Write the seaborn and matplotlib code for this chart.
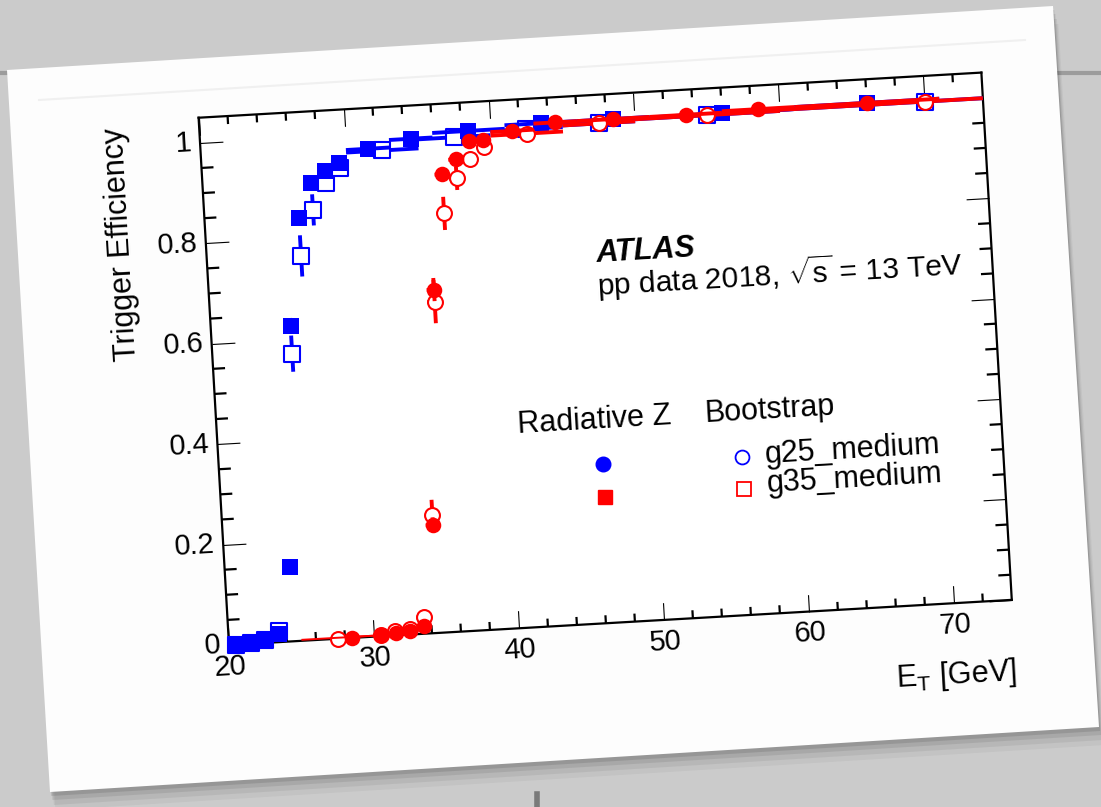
import numpy as np
import matplotlib
matplotlib.use("Agg")
import matplotlib.pyplot as plt
import matplotlib.ticker as mticker
import seaborn as sns
from matplotlib.transforms import Affine2D
from matplotlib.patches import Polygon
from matplotlib.lines import Line2D
import mpl_toolkits.axisartist.floating_axes as floating_axes
from mpl_toolkits.axisartist.grid_finder import FixedLocator

# ---------------- data ----------------
# g25_medium, Radiative Z (filled blue squares)
g25_radz_x = [20.5, 21.5, 22.5, 23.5, 24.5, 25.5, 26.5, 27.5, 28.5, 29.5, 31.5, 34.5, 38.5, 43.5, 48.5, 56.0, 66.0]
g25_radz_y = [0.000, 0.002, 0.006, 0.017, 0.148, 0.627, 0.840, 0.907, 0.930, 0.945, 0.969, 0.984, 0.993, 1.000, 1.000, 0.999, 1.003]
g25_radz_xerr = [0.5, 0.5, 0.5, 0.5, 0.5, 0.5, 0.5, 0.5, 0.5, 0.5, 1.5, 1.5, 2.5, 2.5, 2.5, 5.0, 5.0]
g25_radz_yerr = [0.002, 0.002, 0.003, 0.005, 0.010, 0.015, 0.012, 0.008, 0.007, 0.006, 0.004, 0.004, 0.003, 0.003, 0.003, 0.003, 0.003]

# g25_medium, Bootstrap (open blue squares)
g25_boot_x = [20.5, 21.5, 22.5, 23.5, 25.5, 26.5, 27.5, 28.5, 29.5, 32.5, 37.5, 42.5, 47.5, 55.0, 70.0]
g25_boot_y = [0.000, 0.001, 0.005, 0.022, 0.571, 0.764, 0.854, 0.905, 0.934, 0.964, 0.982, 0.990, 0.993, 0.997, 0.999]
g25_boot_xerr = [0.5, 0.5, 0.5, 0.5, 0.5, 0.5, 0.5, 0.5, 0.5, 2.5, 2.5, 2.5, 2.5, 5.0, 10.0]
g25_boot_yerr = [0.002, 0.002, 0.003, 0.006, 0.036, 0.041, 0.031, 0.015, 0.012, 0.006, 0.004, 0.004, 0.004, 0.004, 0.004]

# g35_medium, Radiative Z (filled red circles)
g35_radz_x = [28.5, 30.5, 31.5, 32.5, 33.5, 34.5, 35.5, 36.5, 37.5, 38.5, 39.5, 41.5, 44.5, 48.5, 53.5, 58.5, 66.0]
g35_radz_y = [0.000, 0.002, 0.004, 0.007, 0.016, 0.215, 0.682, 0.910, 0.938, 0.972, 0.973, 0.988, 1.000, 1.000, 1.000, 1.003, 1.003]
g35_radz_xerr = [1.5, 0.5, 0.5, 0.5, 0.5, 0.5, 0.5, 0.5, 0.5, 0.5, 0.5, 1.5, 1.5, 2.5, 2.5, 2.5, 5.0]
g35_radz_yerr = [0.002, 0.002, 0.003, 0.003, 0.005, 0.015, 0.023, 0.012, 0.012, 0.008, 0.008, 0.004, 0.003, 0.003, 0.003, 0.003, 0.003]

# g35_medium, Bootstrap (open red circles)
g35_boot_x = [27.5, 30.5, 31.5, 32.5, 33.5, 34.5, 35.5, 36.5, 37.5, 38.5, 39.5, 42.5, 47.5, 55.0, 70.0]
g35_boot_y = [0.000, 0.003, 0.008, 0.012, 0.033, 0.235, 0.658, 0.832, 0.900, 0.937, 0.960, 0.981, 0.993, 0.997, 0.999]
g35_boot_xerr = [2.5, 0.5, 0.5, 0.5, 0.5, 0.5, 0.5, 0.5, 0.5, 0.5, 0.5, 2.5, 2.5, 5.0, 10.0]
g35_boot_yerr = [0.002, 0.003, 0.004, 0.005, 0.010, 0.030, 0.043, 0.033, 0.023, 0.012, 0.010, 0.005, 0.004, 0.004, 0.004]

x_major_ticks = [20, 30, 40, 50, 60, 70]
y_major_ticks = [0, 0.2, 0.4, 0.6, 0.8, 1.0]
x_limits = (20, 74)
y_limits = (0, 1.05)

x_title = r"E$_{\mathrm{T}}$ [GeV]"
y_title = "Trigger Efficiency"
atlas_label = "ATLAS"
info_label = r"pp data 2018, $\sqrt{\mathrm{s}}$ = 13 TeV"
legend_headers = ["Radiative Z", "Bootstrap"]
legend_labels = ["g25_medium", "g35_medium"]

BLUE = "#0000ff"
RED = "#ff0000"

# ---------------- style ----------------
plt.rcParams.update({
    "font.family": ["Liberation Sans", "DejaVu Sans"],
    "mathtext.fontset": "custom",
    "mathtext.rm": "Liberation Sans",
    "mathtext.it": "Liberation Sans:italic",
    "mathtext.bf": "Liberation Sans:bold",
})

W, H = 1101, 807
fig = plt.figure(figsize=(W / 100, H / 100), dpi=100)
fig.patch.set_facecolor("#cbcbcb")


def fpts(pts):
    return [(x / W, 1 - y / H) for x, y in pts]


# background "photo" decorations
fig.add_artist(Line2D([0, 1], [1 - 73 / H, 1 - 73 / H], transform=fig.transFigure,
                      color="#9c9c9c", lw=3, zorder=-10))
fig.add_artist(Line2D([537 / W, 537 / W], [1 - 794 / H, 0], transform=fig.transFigure,
                      color="#7a7a7a", lw=4, zorder=-10))
card = [(7, 70), (1053, 6), (1099, 727), (50, 792)]
for d, al in [(18, 0.04), (13, 0.06), (8, 0.08), (4, 0.10)]:
    fig.add_artist(Polygon(fpts([(x + d * 0.3, y + d) for x, y in card]), closed=True,
                           transform=fig.transFigure, facecolor="black", alpha=al,
                           edgecolor="none", zorder=-9))
fig.add_artist(Polygon(fpts(card), closed=True, transform=fig.transFigure,
                       facecolor="#fdfdfd", edgecolor="none", zorder=-8))
fig.add_artist(Line2D([39 / W, 1025 / W], [1 - 100 / H, 1 - 40 / H], transform=fig.transFigure,
                      color="#f0f0f0", lw=1.5, zorder=-7))

# ---------------- rotated axes ----------------
ANGLE = 3.3
SX, SY = 14.52, 503.0          # pixels per x unit / per y unit
tr = (Affine2D().translate(-x_limits[0], -y_limits[0]).scale(SX, SY)
      .rotate_deg(ANGLE).translate(229, H - 645))

fmt = mticker.FormatStrFormatter("%g")
grid_helper = floating_axes.GridHelperCurveLinear(
    tr, extremes=(x_limits[0], x_limits[1], y_limits[0], y_limits[1]),
    grid_locator1=FixedLocator(x_major_ticks),
    grid_locator2=FixedLocator(y_major_ticks),
    tick_formatter1=fmt, tick_formatter2=fmt)

ax = fig.add_axes([0, 0, 1, 1], axes_class=floating_axes.FloatingAxes, grid_helper=grid_helper)
ax.set_xlim(0, W)
ax.set_ylim(0, H)
ax.patch.set_facecolor("white")
for s in ax.spines.values():
    s.set_visible(False)

for side in ["left", "right", "top", "bottom"]:
    a = ax.axis[side]
    a.line.set_linewidth(1.6)
    a.major_ticks.set_tick_out(False)
    a.major_ticks.set_linewidth(1.6)
    a.major_ticks.set_ticksize(12.5 if side in ("top", "bottom") else 16.5)
    a.major_ticklabels.set_fontsize(21)
    a.label.set_visible(False)
ax.axis["top"].major_ticklabels.set_visible(False)
ax.axis["right"].major_ticklabels.set_visible(False)
ax.axis["bottom"].major_ticklabels.set_pad(7)
ax.axis["left"].major_ticklabels.set_pad(6)

aux = ax.get_aux_axes(tr)

# minor ticks (every 2 GeV and every 0.05)
x_minor = [v for v in np.arange(22, x_limits[1], 2) if v % 10 != 0]
y_minor = [v for v in np.arange(0.05, y_limits[1], 0.05) if abs(v / 0.2 - round(v / 0.2)) > 1e-6]
lx = 8 / SY
ly = 12 / SX
aux.vlines(x_minor, y_limits[0], y_limits[0] + lx, color="black", lw=1.6, clip_on=False)
aux.vlines(x_minor, y_limits[1] - lx, y_limits[1], color="black", lw=1.6, clip_on=False)
aux.hlines(y_minor, x_limits[0], x_limits[0] + ly, color="black", lw=1.6, clip_on=False)
aux.hlines(y_minor, x_limits[1] - ly, x_limits[1], color="black", lw=1.6, clip_on=False)


def draw_series(x, y, xerr, yerr, color, marker, filled, size, z):
    eb = aux.errorbar(x, y, xerr=xerr, yerr=yerr, fmt="none", ecolor=color,
                      elinewidth=2.8, capsize=0, zorder=z)
    for coll in eb.lines[2]:
        coll.set_clip_path(ax.patch)
    sns.scatterplot(x=x, y=y, ax=aux, marker=marker, s=size, color=color,
                    facecolors=(color if filled else "white"), edgecolor=color,
                    linewidth=(0 if filled else 1.5), zorder=z + 0.5, legend=False,
                    clip_on=False)


draw_series(g25_boot_x, g25_boot_y, g25_boot_xerr, g25_boot_yerr, BLUE, "s", False, 125, 3)
draw_series(g25_radz_x, g25_radz_y, g25_radz_xerr, g25_radz_yerr, BLUE, "s", True, 140, 4)
draw_series(g35_boot_x, g35_boot_y, g35_boot_xerr, g35_boot_yerr, RED, "o", False, 115, 5)
draw_series(g35_radz_x, g35_radz_y, g35_radz_xerr, g35_radz_yerr, RED, "o", True, 125, 6)

# ---------------- texts ----------------
tkw = dict(rotation=ANGLE, rotation_mode="anchor", fontsize=22, color="black")
aux.text(46.78, 0.719, atlas_label, ha="left", va="baseline", fontweight="bold",
         fontstyle="italic", **tkw)
aux.text(46.70, 0.650, info_label, ha="left", va="baseline", **{**tkw, "fontsize": 21.5})

aux.text(40.70, 0.388, legend_headers[0], ha="left", va="baseline", **tkw)
aux.text(53.60, 0.388, legend_headers[1], ha="left", va="baseline", **tkw)
aux.text(57.60, 0.300, legend_labels[0], ha="left", va="baseline", **tkw)
aux.text(57.60, 0.243, legend_labels[1], ha="left", va="baseline", **tkw)

aux.plot([46.45], [0.316], marker="o", ms=10.5, mfc=BLUE, mec=BLUE, ls="none", clip_on=False)
aux.plot([46.42], [0.251], marker="s", ms=10.5, mfc=RED, mec=RED, ls="none", clip_on=False)
aux.plot([56.03], [0.314], marker="o", ms=10, mfc="none", mec=BLUE, mew=1.3, ls="none", clip_on=False)
aux.plot([56.00], [0.250], marker="s", ms=10, mfc="none", mec=RED, mew=1.3, ls="none", clip_on=False)

aux.text(74.08, -0.159, x_title, ha="right", va="baseline", **tkw)
aux.text(14.2, 1.04, y_title, ha="right", va="center",
         **{**tkw, "rotation": 90 + ANGLE})

fig.savefig("out.png", dpi=100, facecolor=fig.get_facecolor())
